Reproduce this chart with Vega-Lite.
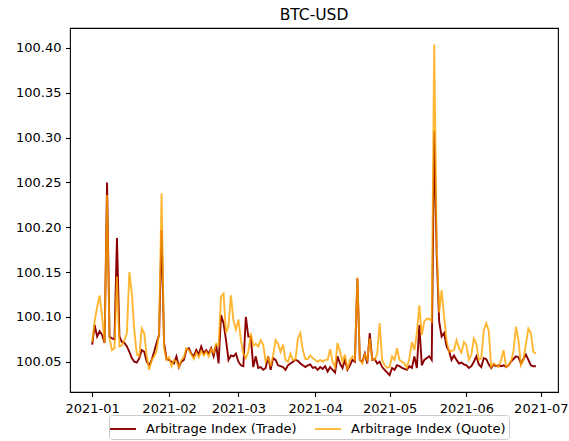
{
  "$schema": "https://vega.github.io/schema/vega-lite/v6.json",
  "width": 488,
  "height": 364,
  "autosize": {"type": "none"},
  "padding": {"left": 70, "top": 28, "right": 11, "bottom": 49},
  "background": "white",
  "title": {"text": "BTC-USD", "font": "DejaVu Sans", "fontSize": 15.5, "fontWeight": "normal", "color": "black", "offset": 5},
  "data": {"values": [
    {"date": "2021-01-01", "Trade": 100.069, "Quote": 100.072},
    {"date": "2021-01-02", "Trade": 100.091, "Quote": 100.095},
    {"date": "2021-01-03", "Trade": 100.078, "Quote": 100.111},
    {"date": "2021-01-04", "Trade": 100.084, "Quote": 100.124},
    {"date": "2021-01-05", "Trade": 100.080, "Quote": 100.100},
    {"date": "2021-01-06", "Trade": 100.071, "Quote": 100.071},
    {"date": "2021-01-07", "Trade": 100.250, "Quote": 100.236},
    {"date": "2021-01-08", "Trade": 100.078, "Quote": 100.076},
    {"date": "2021-01-09", "Trade": 100.076, "Quote": 100.063},
    {"date": "2021-01-10", "Trade": 100.075, "Quote": 100.065},
    {"date": "2021-01-11", "Trade": 100.188, "Quote": 100.145},
    {"date": "2021-01-12", "Trade": 100.078, "Quote": 100.067},
    {"date": "2021-01-13", "Trade": 100.072, "Quote": 100.068},
    {"date": "2021-01-14", "Trade": 100.071, "Quote": 100.074},
    {"date": "2021-01-15", "Trade": 100.067, "Quote": 100.082},
    {"date": "2021-01-16", "Trade": 100.061, "Quote": 100.150},
    {"date": "2021-01-17", "Trade": 100.054, "Quote": 100.126},
    {"date": "2021-01-18", "Trade": 100.050, "Quote": 100.085},
    {"date": "2021-01-19", "Trade": 100.049, "Quote": 100.058},
    {"date": "2021-01-20", "Trade": 100.054, "Quote": 100.056},
    {"date": "2021-01-21", "Trade": 100.063, "Quote": 100.087},
    {"date": "2021-01-22", "Trade": 100.061, "Quote": 100.082},
    {"date": "2021-01-23", "Trade": 100.050, "Quote": 100.056},
    {"date": "2021-01-24", "Trade": 100.046, "Quote": 100.041},
    {"date": "2021-01-25", "Trade": 100.052, "Quote": 100.052},
    {"date": "2021-01-26", "Trade": 100.061, "Quote": 100.056},
    {"date": "2021-01-27", "Trade": 100.071, "Quote": 100.062},
    {"date": "2021-01-28", "Trade": 100.080, "Quote": 100.082},
    {"date": "2021-01-29", "Trade": 100.197, "Quote": 100.238},
    {"date": "2021-01-30", "Trade": 100.071, "Quote": 100.065},
    {"date": "2021-01-31", "Trade": 100.053, "Quote": 100.052},
    {"date": "2021-02-01", "Trade": 100.052, "Quote": 100.055},
    {"date": "2021-02-02", "Trade": 100.050, "Quote": 100.045},
    {"date": "2021-02-03", "Trade": 100.048, "Quote": 100.052},
    {"date": "2021-02-04", "Trade": 100.056, "Quote": 100.050},
    {"date": "2021-02-05", "Trade": 100.044, "Quote": 100.044},
    {"date": "2021-02-06", "Trade": 100.050, "Quote": 100.052},
    {"date": "2021-02-07", "Trade": 100.052, "Quote": 100.055},
    {"date": "2021-02-08", "Trade": 100.063, "Quote": 100.065},
    {"date": "2021-02-09", "Trade": 100.065, "Quote": 100.063},
    {"date": "2021-02-10", "Trade": 100.059, "Quote": 100.058},
    {"date": "2021-02-11", "Trade": 100.056, "Quote": 100.053},
    {"date": "2021-02-12", "Trade": 100.063, "Quote": 100.060},
    {"date": "2021-02-13", "Trade": 100.058, "Quote": 100.055},
    {"date": "2021-02-14", "Trade": 100.067, "Quote": 100.062},
    {"date": "2021-02-15", "Trade": 100.059, "Quote": 100.057},
    {"date": "2021-02-16", "Trade": 100.063, "Quote": 100.061},
    {"date": "2021-02-17", "Trade": 100.059, "Quote": 100.056},
    {"date": "2021-02-18", "Trade": 100.065, "Quote": 100.064},
    {"date": "2021-02-19", "Trade": 100.056, "Quote": 100.060},
    {"date": "2021-02-20", "Trade": 100.069, "Quote": 100.070},
    {"date": "2021-02-21", "Trade": 100.048, "Quote": 100.068},
    {"date": "2021-02-22", "Trade": 100.102, "Quote": 100.123},
    {"date": "2021-02-23", "Trade": 100.093, "Quote": 100.126},
    {"date": "2021-02-24", "Trade": 100.074, "Quote": 100.082},
    {"date": "2021-02-25", "Trade": 100.052, "Quote": 100.090},
    {"date": "2021-02-26", "Trade": 100.057, "Quote": 100.124},
    {"date": "2021-02-27", "Trade": 100.056, "Quote": 100.096},
    {"date": "2021-02-28", "Trade": 100.059, "Quote": 100.086},
    {"date": "2021-03-01", "Trade": 100.050, "Quote": 100.097},
    {"date": "2021-03-02", "Trade": 100.046, "Quote": 100.074},
    {"date": "2021-03-03", "Trade": 100.045, "Quote": 100.059},
    {"date": "2021-03-04", "Trade": 100.100, "Quote": 100.054},
    {"date": "2021-03-05", "Trade": 100.078, "Quote": 100.061},
    {"date": "2021-03-06", "Trade": 100.078, "Quote": 100.082},
    {"date": "2021-03-07", "Trade": 100.044, "Quote": 100.068},
    {"date": "2021-03-08", "Trade": 100.056, "Quote": 100.070},
    {"date": "2021-03-09", "Trade": 100.043, "Quote": 100.067},
    {"date": "2021-03-10", "Trade": 100.044, "Quote": 100.074},
    {"date": "2021-03-11", "Trade": 100.041, "Quote": 100.069},
    {"date": "2021-03-12", "Trade": 100.043, "Quote": 100.050},
    {"date": "2021-03-13", "Trade": 100.056, "Quote": 100.055},
    {"date": "2021-03-14", "Trade": 100.041, "Quote": 100.045},
    {"date": "2021-03-15", "Trade": 100.054, "Quote": 100.057},
    {"date": "2021-03-16", "Trade": 100.052, "Quote": 100.074},
    {"date": "2021-03-17", "Trade": 100.046, "Quote": 100.070},
    {"date": "2021-03-18", "Trade": 100.045, "Quote": 100.061},
    {"date": "2021-03-19", "Trade": 100.044, "Quote": 100.069},
    {"date": "2021-03-20", "Trade": 100.041, "Quote": 100.052},
    {"date": "2021-03-21", "Trade": 100.046, "Quote": 100.050},
    {"date": "2021-03-22", "Trade": 100.048, "Quote": 100.059},
    {"date": "2021-03-23", "Trade": 100.050, "Quote": 100.052},
    {"date": "2021-03-24", "Trade": 100.052, "Quote": 100.052},
    {"date": "2021-03-25", "Trade": 100.051, "Quote": 100.076},
    {"date": "2021-03-26", "Trade": 100.048, "Quote": 100.082},
    {"date": "2021-03-27", "Trade": 100.046, "Quote": 100.063},
    {"date": "2021-03-28", "Trade": 100.044, "Quote": 100.053},
    {"date": "2021-03-29", "Trade": 100.046, "Quote": 100.053},
    {"date": "2021-03-30", "Trade": 100.047, "Quote": 100.057},
    {"date": "2021-03-31", "Trade": 100.043, "Quote": 100.054},
    {"date": "2021-04-01", "Trade": 100.044, "Quote": 100.052},
    {"date": "2021-04-02", "Trade": 100.041, "Quote": 100.050},
    {"date": "2021-04-03", "Trade": 100.044, "Quote": 100.052},
    {"date": "2021-04-04", "Trade": 100.042, "Quote": 100.050},
    {"date": "2021-04-05", "Trade": 100.045, "Quote": 100.052},
    {"date": "2021-04-06", "Trade": 100.039, "Quote": 100.052},
    {"date": "2021-04-07", "Trade": 100.044, "Quote": 100.064},
    {"date": "2021-04-08", "Trade": 100.041, "Quote": 100.050},
    {"date": "2021-04-09", "Trade": 100.038, "Quote": 100.044},
    {"date": "2021-04-10", "Trade": 100.056, "Quote": 100.071},
    {"date": "2021-04-11", "Trade": 100.048, "Quote": 100.061},
    {"date": "2021-04-12", "Trade": 100.043, "Quote": 100.050},
    {"date": "2021-04-13", "Trade": 100.052, "Quote": 100.058},
    {"date": "2021-04-14", "Trade": 100.041, "Quote": 100.041},
    {"date": "2021-04-15", "Trade": 100.046, "Quote": 100.052},
    {"date": "2021-04-16", "Trade": 100.052, "Quote": 100.056},
    {"date": "2021-04-17", "Trade": 100.050, "Quote": 100.052},
    {"date": "2021-04-18", "Trade": 100.143, "Quote": 100.144},
    {"date": "2021-04-19", "Trade": 100.052, "Quote": 100.052},
    {"date": "2021-04-20", "Trade": 100.050, "Quote": 100.048},
    {"date": "2021-04-21", "Trade": 100.059, "Quote": 100.058},
    {"date": "2021-04-22", "Trade": 100.048, "Quote": 100.052},
    {"date": "2021-04-23", "Trade": 100.082, "Quote": 100.076},
    {"date": "2021-04-24", "Trade": 100.052, "Quote": 100.052},
    {"date": "2021-04-25", "Trade": 100.053, "Quote": 100.052},
    {"date": "2021-04-26", "Trade": 100.048, "Quote": 100.059},
    {"date": "2021-04-27", "Trade": 100.050, "Quote": 100.093},
    {"date": "2021-04-28", "Trade": 100.044, "Quote": 100.052},
    {"date": "2021-04-29", "Trade": 100.041, "Quote": 100.046},
    {"date": "2021-04-30", "Trade": 100.038, "Quote": 100.043},
    {"date": "2021-05-01", "Trade": 100.035, "Quote": 100.044},
    {"date": "2021-05-02", "Trade": 100.043, "Quote": 100.056},
    {"date": "2021-05-03", "Trade": 100.041, "Quote": 100.052},
    {"date": "2021-05-04", "Trade": 100.046, "Quote": 100.065},
    {"date": "2021-05-05", "Trade": 100.045, "Quote": 100.052},
    {"date": "2021-05-06", "Trade": 100.043, "Quote": 100.050},
    {"date": "2021-05-07", "Trade": 100.042, "Quote": 100.048},
    {"date": "2021-05-08", "Trade": 100.041, "Quote": 100.043},
    {"date": "2021-05-09", "Trade": 100.045, "Quote": 100.054},
    {"date": "2021-05-10", "Trade": 100.043, "Quote": 100.072},
    {"date": "2021-05-11", "Trade": 100.056, "Quote": 100.063},
    {"date": "2021-05-12", "Trade": 100.043, "Quote": 100.082},
    {"date": "2021-05-13", "Trade": 100.091, "Quote": 100.113},
    {"date": "2021-05-14", "Trade": 100.046, "Quote": 100.080},
    {"date": "2021-05-15", "Trade": 100.052, "Quote": 100.095},
    {"date": "2021-05-16", "Trade": 100.054, "Quote": 100.098},
    {"date": "2021-05-17", "Trade": 100.056, "Quote": 100.098},
    {"date": "2021-05-18", "Trade": 100.052, "Quote": 100.095},
    {"date": "2021-05-19", "Trade": 100.307, "Quote": 100.404},
    {"date": "2021-05-20", "Trade": 100.170, "Quote": 100.180},
    {"date": "2021-05-21", "Trade": 100.095, "Quote": 100.105},
    {"date": "2021-05-22", "Trade": 100.078, "Quote": 100.130},
    {"date": "2021-05-23", "Trade": 100.082, "Quote": 100.100},
    {"date": "2021-05-24", "Trade": 100.067, "Quote": 100.074},
    {"date": "2021-05-25", "Trade": 100.062, "Quote": 100.061},
    {"date": "2021-05-26", "Trade": 100.052, "Quote": 100.062},
    {"date": "2021-05-27", "Trade": 100.057, "Quote": 100.063},
    {"date": "2021-05-28", "Trade": 100.052, "Quote": 100.074},
    {"date": "2021-05-29", "Trade": 100.048, "Quote": 100.065},
    {"date": "2021-05-30", "Trade": 100.049, "Quote": 100.060},
    {"date": "2021-05-31", "Trade": 100.047, "Quote": 100.072},
    {"date": "2021-06-01", "Trade": 100.046, "Quote": 100.068},
    {"date": "2021-06-02", "Trade": 100.043, "Quote": 100.052},
    {"date": "2021-06-03", "Trade": 100.045, "Quote": 100.058},
    {"date": "2021-06-04", "Trade": 100.050, "Quote": 100.076},
    {"date": "2021-06-05", "Trade": 100.056, "Quote": 100.070},
    {"date": "2021-06-06", "Trade": 100.047, "Quote": 100.052},
    {"date": "2021-06-07", "Trade": 100.044, "Quote": 100.054},
    {"date": "2021-06-08", "Trade": 100.054, "Quote": 100.085},
    {"date": "2021-06-09", "Trade": 100.053, "Quote": 100.093},
    {"date": "2021-06-10", "Trade": 100.047, "Quote": 100.085},
    {"date": "2021-06-11", "Trade": 100.043, "Quote": 100.044},
    {"date": "2021-06-12", "Trade": 100.047, "Quote": 100.048},
    {"date": "2021-06-13", "Trade": 100.045, "Quote": 100.046},
    {"date": "2021-06-14", "Trade": 100.046, "Quote": 100.044},
    {"date": "2021-06-15", "Trade": 100.045, "Quote": 100.052},
    {"date": "2021-06-16", "Trade": 100.046, "Quote": 100.063},
    {"date": "2021-06-17", "Trade": 100.044, "Quote": 100.044},
    {"date": "2021-06-18", "Trade": 100.046, "Quote": 100.046},
    {"date": "2021-06-19", "Trade": 100.050, "Quote": 100.050},
    {"date": "2021-06-20", "Trade": 100.053, "Quote": 100.062},
    {"date": "2021-06-21", "Trade": 100.056, "Quote": 100.089},
    {"date": "2021-06-22", "Trade": 100.055, "Quote": 100.074},
    {"date": "2021-06-23", "Trade": 100.048, "Quote": 100.046},
    {"date": "2021-06-24", "Trade": 100.053, "Quote": 100.052},
    {"date": "2021-06-25", "Trade": 100.058, "Quote": 100.070},
    {"date": "2021-06-26", "Trade": 100.052, "Quote": 100.087},
    {"date": "2021-06-27", "Trade": 100.046, "Quote": 100.082},
    {"date": "2021-06-28", "Trade": 100.045, "Quote": 100.061},
    {"date": "2021-06-29", "Trade": 100.045, "Quote": 100.059}
  ]},
  "transform": [{"fold": ["Trade", "Quote"], "as": ["series", "value"]}],
  "mark": {"type": "line", "strokeWidth": 1.9, "interpolate": "linear"},
  "encoding": {
    "x": {
      "field": "date", "type": "temporal",
      "scale": {"type": "utc", "domain": [
        {"year": 2020, "month": 12, "date": 23, "hours": 1, "minutes": 12, "utc": true},
        {"year": 2021, "month": 7, "date": 7, "hours": 22, "minutes": 48, "utc": true}
      ]},
      "axis": {"format": "%Y-%m", "tickCount": {"interval": "month", "step": 1}, "labelFlush": false, "labelOverlap": false, "labelPadding": 5.5}
    },
    "y": {
      "field": "value", "type": "quantitative",
      "scale": {"domain": [100.0162, 100.4223], "nice": false, "zero": false},
      "axis": {"values": [100.05, 100.1, 100.15, 100.2, 100.25, 100.3, 100.35, 100.4], "format": ".2f"}
    },
    "color": {
      "field": "series", "type": "nominal",
      "scale": {"domain": ["Trade", "Quote"], "range": ["#8b0000", "#ffa500"]},
      "legend": {
        "labelExpr": "'Arbitrage Index (' + datum.label + ')'",
        "encode": {"symbols": {"update": {"opacity": {"signal": "datum.value == 'Quote' ? 0.8 : 1"}}}}
      }
    },
    "strokeOpacity": {"condition": {"test": "datum.series == 'Quote'", "value": 0.8}, "value": 1}
  },
  "config": {
    "font": "DejaVu Sans",
    "view": {"stroke": "black", "strokeWidth": 1.1},
    "axis": {
      "domain": false, "grid": false, "title": null,
      "tickColor": "black", "tickWidth": 1.1, "tickSize": 4.5,
      "labelFont": "DejaVu Sans", "labelFontSize": 13, "labelColor": "black", "labelPadding": 4.5
    },
    "legend": {
      "orient": "none", "legendX": 39, "legendY": 387, "direction": "horizontal",
      "title": null, "symbolType": "M-1.3,0H1.3", "symbolSize": 400, "symbolStrokeWidth": 1.9,
      "labelFont": "DejaVu Sans", "labelFontSize": 13, "labelColor": "black", "labelOffset": 12,
      "columnPadding": 14, "padding": 3, "strokeColor": "#cccccc", "fillColor": "white",
      "cornerRadius": 3, "labelLimit": 400
    }
  }
}
